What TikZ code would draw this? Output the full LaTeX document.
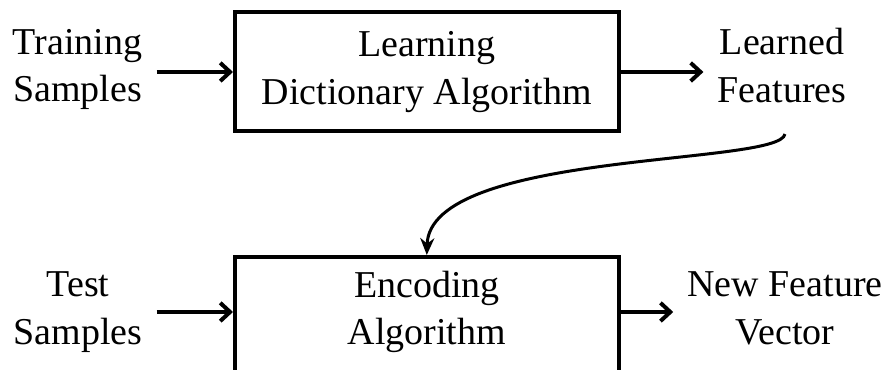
\documentclass[tikz,border=0pt]{standalone}
\usepackage{fontspec}
\setmainfont{Liberation Serif}
\usepackage{tikz}
\usetikzlibrary{arrows.meta, positioning}
\definecolor{inkblack}{RGB}{0,0,0}
\definecolor{paperwhite}{RGB}{255,255,255}
\newcommand{\diagfont}{\fontsize{27}{34}\selectfont}

\begin{document}
\begin{tikzpicture}[
    blockbox/.style={draw=inkblack, line width=0.1cm, minimum width=9.59cm, align=center, font=\diagfont},
    txtlabel/.style={align=center, inner xsep=0.35cm, inner ysep=0pt, font=\diagfont},
    flowarrow/.style={draw=inkblack, line width=0.1cm, -{Straight Barb[length=7pt,width=13pt]}},
    bendarrow/.style={draw=inkblack, line width=0.075cm, -{Stealth[length=12pt,width=10pt]}}
]

% Canvas
\fill[paperwhite] (0,0) rectangle (22.275,9.25);
\useasboundingbox (0,0) rectangle (22.275,9.25);

% Top row - learning
\node[txtlabel] (train) at (1.94,7.5125) {Training\\Samples};
\node[blockbox, minimum height=2.975cm] (learn) at (10.67,7.45) {Learning\\Dictionary Algorithm};
\node[txtlabel] (feat) at (19.55,7.6125) {Learned\\Features};

% Bottom row - encoding
\node[txtlabel] (test) at (1.95,1.45) {Test\\Samples};
\node[blockbox, minimum height=3.2cm, anchor=north] (encbox) at (10.67,2.875) {};
\node[txtlabel] (enctext) at (10.67,1.45) {Encoding\\Algorithm};
\node[txtlabel] (newfeat) at (19.625,1.55) {New Feature\\Vector};

% Connectors
\draw[flowarrow] (train.east |- learn.west) -- (learn.west);
\draw[flowarrow] (learn.east) -- (learn.east -| feat.west);
\draw[flowarrow] (test.east) -- (test.east -| encbox.west);
\draw[flowarrow] (encbox.east |- enctext) -- (enctext -| newfeat.west);

% Dictionary handed down to the encoder
\coordinate (featfoot) at ([xshift=0.075cm, yshift=-0.775cm]feat.south);
\draw[bendarrow] (featfoot) .. controls +(-0.125,-0.8) and +(0.075,2.625) .. (encbox.north);

\end{tikzpicture}
\end{document}
